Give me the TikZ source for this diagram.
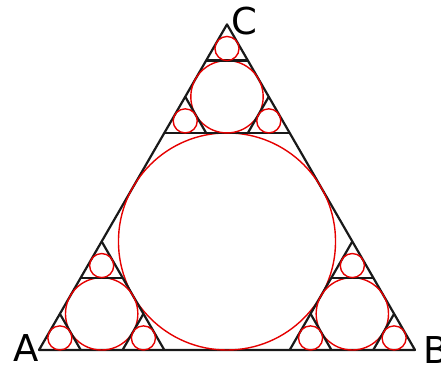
\documentclass[tikz,border=0pt]{standalone}
\usepackage{fontspec}
\setmainfont{DejaVu Sans}
\usepackage{tikz}
\usetikzlibrary{calc}

\newcommand\cornertri[4]{%
  \coordinate (#11) at (#2);
  \coordinate (#12) at ($(#2)!1/3!(#3)$);
  \coordinate (#13) at ($(#2)!1/3!(#4)$);
  \draw[edge] (#12) -- (#13);
  \draw[ring] let \p1=($(#12)-(#13)$), \n1={veclen(\x1,\y1)/(2*sqrt(3))} in
    (barycentric cs:#11=1,#12=1,#13=1) circle[radius=\n1];
}

\begin{document}
\begin{tikzpicture}[x=1pt, y=1pt,
    edge/.style={draw=black!90, line width=2.2pt, line join=round},
    ring/.style={draw=red!90!black, line width=1.4pt},
    vlabel/.style={font=\fontsize{37}{37}\selectfont, inner sep=0pt, anchor=base west},
  ]
  \useasboundingbox (0,0) rectangle (441,367);
  \coordinate (A) at (39,17);
  \coordinate (B) at (415,17);
  \coordinate (C) at (227,342.6);

  \draw[edge] (A) -- (B) -- (C) -- cycle;
  \draw[ring] let \p1=($(A)-(B)$), \n1={veclen(\x1,\y1)/(2*sqrt(3))} in
    (barycentric cs:A=1,B=1,C=1) circle[radius=\n1];

  \foreach \v/\p/\q in {A/B/C, B/C/A, C/A/B} {
    \cornertri{\v}{\v}{\p}{\q}
    \foreach \i/\j/\k in {1/2/3, 2/3/1, 3/1/2} {
      \cornertri{\v\i}{\v\i}{\v\j}{\v\k}
    }
  }

  \node[vlabel] (labA) at (13,6) {A};
  \node[vlabel] (labB) at (423,4) {B};
  \node[vlabel] (labC) at (231,332) {C};
\end{tikzpicture}
\end{document}
